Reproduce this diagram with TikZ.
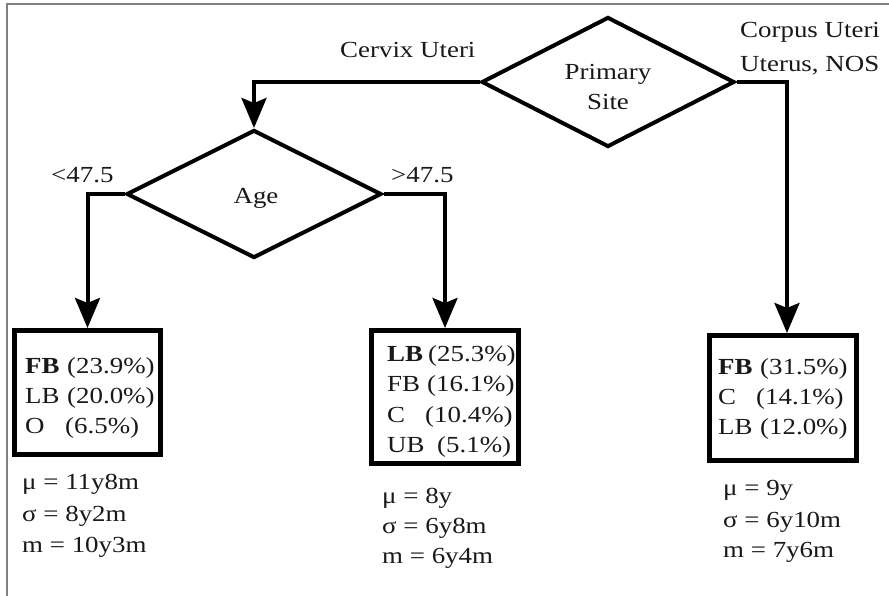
\documentclass[tikz,border=0pt]{standalone}
\usepackage{fontspec}
\setmainfont{Liberation Serif}[FakeStretch=1.17]
\usetikzlibrary{arrows.meta,shapes.geometric}

\tikzset{
  txt/.style={inner sep=0pt, anchor=base west, font=\fontsize{23}{30}\selectfont, text=black!90},
  ctxt/.style={txt, anchor=base},
  decision/.style={diamond, draw, line width=4pt, inner sep=0pt, minimum width=#1},
  leafbox/.style={draw, line width=5pt, inner sep=0pt},
  link/.style={line width=4pt},
  flow/.style={link, -{Stealth[length=30pt,width=25pt,inset=5pt]}},
  frame/.style={draw=black!50, line width=1.5pt}
}

\begin{document}
\begin{tikzpicture}[x=1pt, y=-1pt]
\useasboundingbox (0,0) rectangle (889,596);
\fill[white] (0,0) rectangle (889,596);

% open frame along the top and left edges
\coordinate (fa) at (7,596);
\coordinate (fb) at (7,4);
\coordinate (fc) at (889,4);
\draw[frame] (fa) -- (fb) -- (fc);

% decisions
\node[decision=253pt, minimum height=130pt] (prim) at (608,82) {};
\node[decision=255pt, minimum height=128pt] (age) at (254,194) {};
\node[ctxt] (primtxt) at (608,80) {Primary};
\node[ctxt] (sitetxt) at (608,110) {Site};
\node[ctxt] (agetxt) at (256,204) {Age};

% leaves
\node[leafbox, minimum width=146pt, minimum height=124pt] (lbox) at (87.5,392.5) {};
\node[leafbox, minimum width=147pt, minimum height=133pt] (mbox) at (445,397) {};
\node[leafbox, minimum width=147pt, minimum height=125pt] (rbox) at (783,398) {};

% connectors
\draw[flow] (prim.west) -| (age.north);
\draw[flow] (prim.east) -| ([xshift=4pt]rbox.north);
\draw[flow] (age.west) -| (lbox.north);
\draw[flow] (age.east) -| (mbox.north);

% branch labels
\node[txt] (cervix) at (340,58) {Cervix Uteri};
\node[txt] (corpus) at (740,38) {Corpus Uteri};
\node[txt] (uterus) at (740,72) {Uterus, NOS};
\node[txt] (lt) at (51,183) {<47.5};
\node[txt] (gt) at (391,183) {>47.5};

% left leaf
\node[txt] (l1) at (25,373) {\makebox[42pt][l]{\textbf{FB}}(23.9\%)};
\node[txt] (l2) at (25,403) {\makebox[42pt][l]{LB}(20.0\%)};
\node[txt] (l3) at (25,433) {\makebox[40pt][l]{O}(6.5\%)};
\node[txt] (ls1) at (22,489) {μ = 11y8m};
\node[txt] (ls2) at (22,521) {σ = 8y2m};
\node[txt] (ls3) at (22,552) {m = 10y3m};

% middle leaf
\node[txt] (m1) at (387,361) {\makebox[41pt][l]{\textbf{LB}}(25.3\%)};
\node[txt] (m2) at (387,391) {\makebox[40pt][l]{FB}(16.1\%)};
\node[txt] (m3) at (387,422) {\makebox[38pt][l]{C}(10.4\%)};
\node[txt] (m4) at (387,452) {\makebox[50pt][l]{UB}(5.1\%)};
\node[txt] (ms1) at (382,503) {μ = 8y};
\node[txt] (ms2) at (382,533) {σ = 6y8m};
\node[txt] (ms3) at (382,563) {m = 6y4m};

% right leaf
\node[txt] (r1) at (718,374) {\makebox[42pt][l]{\textbf{FB}}(31.5\%)};
\node[txt] (r2) at (718,404) {\makebox[38pt][l]{C}(14.1\%)};
\node[txt] (r3) at (718,434) {\makebox[42pt][l]{LB}(12.0\%)};
\node[txt] (rs1) at (723,495) {μ = 9y};
\node[txt] (rs2) at (723,527) {σ = 6y10m};
\node[txt] (rs3) at (723,557) {m = 7y6m};
\end{tikzpicture}
\end{document}
